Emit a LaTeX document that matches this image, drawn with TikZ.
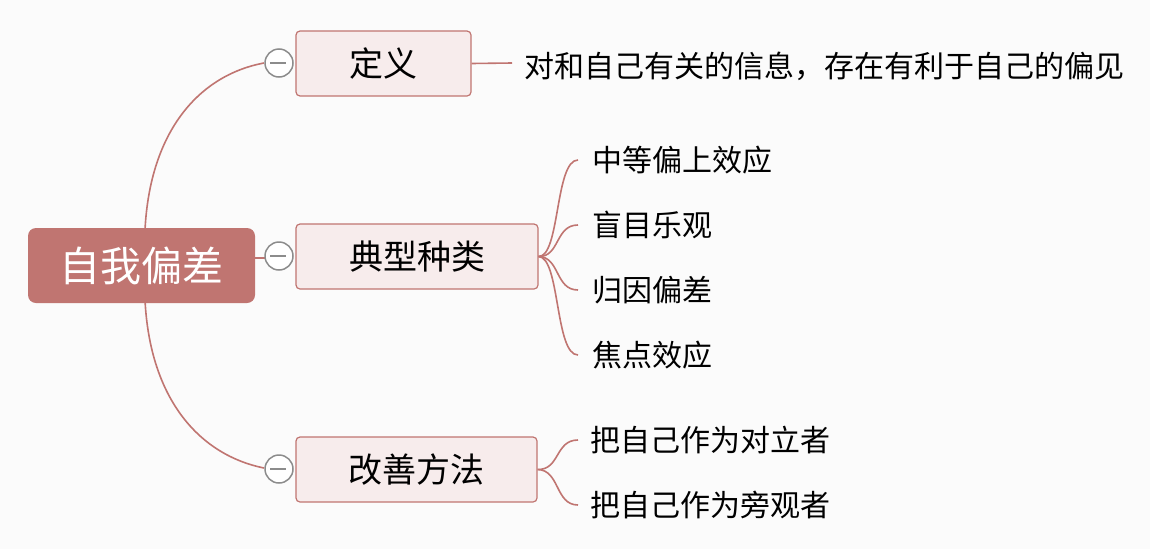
\documentclass[tikz,border=0pt]{standalone}
\usepackage{fontspec}
\setmainfont{Noto Sans CJK SC}
\begin{document}
\begin{tikzpicture}[x=1pt,y=-1pt]
\tikzset{
  rootbox/.style={draw=none, fill=rosy, rounded corners=8pt, minimum width=227pt, minimum height=75pt, text=white, font=\fontsize{41}{41}\selectfont},
  subbox/.style={draw=rosy, line width=1.2pt, fill=pale, rounded corners=4pt, minimum height=65pt, font=\fontsize{34}{34}\selectfont},
  leaf/.style={anchor=west, inner sep=0pt, font=\fontsize{30}{30}\selectfont},
  fold/.style={circle, draw=gray!90, fill=white, line width=1.5pt, minimum size=28pt, inner sep=0pt},
  link/.style={draw=rosy, line width=1.6pt}
}
\definecolor{rosy}{HTML}{C07571}
\definecolor{pale}{HTML}{F7ECEC}
\fill[fill=black!1.5] (0,0) rectangle (1150,549);
\useasboundingbox (0,0) rectangle (1150,549);
% branches from the root
\draw[link] (145,230) .. controls (150,130) and (200,75) .. (264,63);
\draw[link] (145,300) .. controls (150,400) and (200,455) .. (264,468);
\draw[link] (255,258) -- (266,258);
% root and main topics
\node[rootbox] (root) at (141.5,265.5) {自我偏差};
\node[subbox, minimum width=175pt] (def) at (383.5,63.5) {定义};
\node[subbox, minimum width=242pt] (kind) at (417,256.5) {典型种类};
\node[subbox, minimum width=241pt] (fix) at (416.5,469.5) {改善方法};
\foreach \n/\y in {def/63, kind/256, fix/469}
  \node[fold] (c\n) at (279,\y) {} (c\n.west) ++(6,0) edge[gray!90, line width=1.5pt] ++(16,0);
% leaves
\node[leaf] (d1) at (524,66) {对和自己有关的信息，存在有利于自己的偏见};
\draw[link] (def.east) -- (512,63);
\foreach \t/\y [count=\i] in {中等偏上效应/160, 盲目乐观/225, 归因偏差/290, 焦点效应/355}{
  \node[leaf] (k\i) at (592,\y) {\t};
  \draw[link] (kind.east) .. controls (560,257) and (555,\y) .. (578,\y);
}
\foreach \t/\y [count=\i] in {把自己作为对立者/440, 把自己作为旁观者/505}{
  \node[leaf] (f\i) at (590,\y) {\t};
  \draw[link] (fix.east) .. controls (560,470) and (555,\y) .. (578,\y);
}
\end{tikzpicture}
\end{document}
